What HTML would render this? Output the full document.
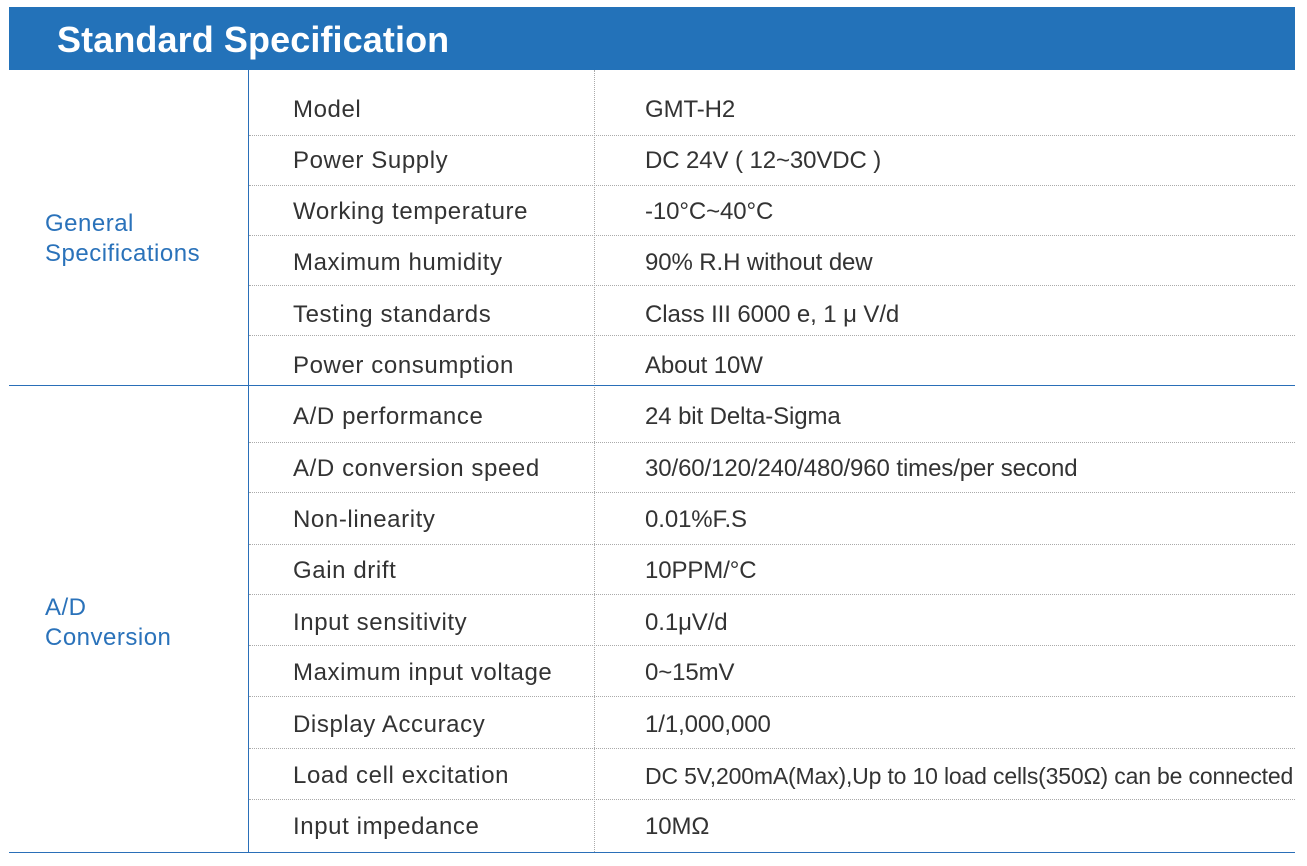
<!DOCTYPE html>
<html><head><meta charset="utf-8"><style>
body{margin:0;width:1307px;height:866px;background:#fff;position:relative;overflow:hidden;font-family:"Liberation Sans",Arial,sans-serif}
.hdr{position:absolute;left:9px;top:7px;width:1286px;height:63px;background:#2372b9}
.hdr span{position:absolute;left:48px;top:12px;color:#fff;font-weight:bold;font-size:36px;letter-spacing:0.1px}
.t{position:absolute;font-size:24px;letter-spacing:0.6px;color:#333;line-height:30px;white-space:nowrap;margin-top:1px}
.v{letter-spacing:-0.1px}
.b{position:absolute;font-size:24px;letter-spacing:0.5px;color:#2a72ba;line-height:30px}
.d{position:absolute;left:249px;width:1046px;border-top:1px dotted #aaa;height:0}
.s{position:absolute;left:9px;width:1286px;height:1px;background:#2a6fb8}
</style></head><body>
<div class="hdr"><span>Standard Specification</span></div>
<div style="position:absolute;left:248px;top:70px;width:1px;height:782px;background:#2a6fb8"></div>
<div style="position:absolute;left:594px;top:70px;height:782px;border-left:1px dotted #aaa"></div>
<div class="d" style="top:135px"></div><div class="d" style="top:185px"></div><div class="d" style="top:235px"></div><div class="d" style="top:285px"></div><div class="d" style="top:335px"></div>
<div class="s" style="top:385px"></div>
<div class="d" style="top:442px"></div><div class="d" style="top:492px"></div><div class="d" style="top:544px"></div><div class="d" style="top:594px"></div><div class="d" style="top:645px"></div><div class="d" style="top:696px"></div><div class="d" style="top:748px"></div><div class="d" style="top:799px"></div>
<div class="s" style="top:852px"></div>
<div class="b" style="left:45px;top:209px">General<br>Specifications</div>
<div class="b" style="left:45px;top:593px">A/D<br>Conversion</div>
<div class="t" style="left:293px;top:94px">Model</div><div class="t v" style="left:645px;top:94px">GMT-H2</div>
<div class="t" style="left:293px;top:145px">Power Supply</div><div class="t v" style="left:645px;top:145px">DC 24V ( 12~30VDC )</div>
<div class="t" style="left:293px;top:196px">Working temperature</div><div class="t v" style="left:645px;top:196px">-10°C~40°C</div>
<div class="t" style="left:293px;top:247px">Maximum humidity</div><div class="t v" style="left:645px;top:247px">90% R.H without dew</div>
<div class="t" style="left:293px;top:299px">Testing standards</div><div class="t v" style="left:645px;top:299px">Class III 6000 e, 1 μ V/d</div>
<div class="t" style="left:293px;top:350px">Power consumption</div><div class="t v" style="left:645px;top:350px">About 10W</div>
<div class="t" style="left:293px;top:401px">A/D performance</div><div class="t v" style="left:645px;top:401px">24 bit Delta-Sigma</div>
<div class="t" style="left:293px;top:453px">A/D conversion speed</div><div class="t v" style="left:645px;top:453px">30/60/120/240/480/960 times/per second</div>
<div class="t" style="left:293px;top:504px">Non-linearity</div><div class="t v" style="left:645px;top:504px">0.01%F.S</div>
<div class="t" style="left:293px;top:555px">Gain drift</div><div class="t v" style="left:645px;top:555px">10PPM/°C</div>
<div class="t" style="left:293px;top:607px">Input sensitivity</div><div class="t v" style="left:645px;top:607px">0.1μV/d</div>
<div class="t" style="left:293px;top:657px">Maximum input voltage</div><div class="t v" style="left:645px;top:657px">0~15mV</div>
<div class="t" style="left:293px;top:709px">Display Accuracy</div><div class="t v" style="left:645px;top:709px">1/1,000,000</div>
<div class="t" style="left:293px;top:760px">Load cell excitation</div><div class="t" style="left:645px;top:760px;font-size:23px;letter-spacing:-0.17px">DC 5V,200mA(Max),Up to 10 load cells(350Ω) can be connected</div>
<div class="t" style="left:293px;top:811px">Input impedance</div><div class="t v" style="left:645px;top:811px">10MΩ</div>
</body></html>
